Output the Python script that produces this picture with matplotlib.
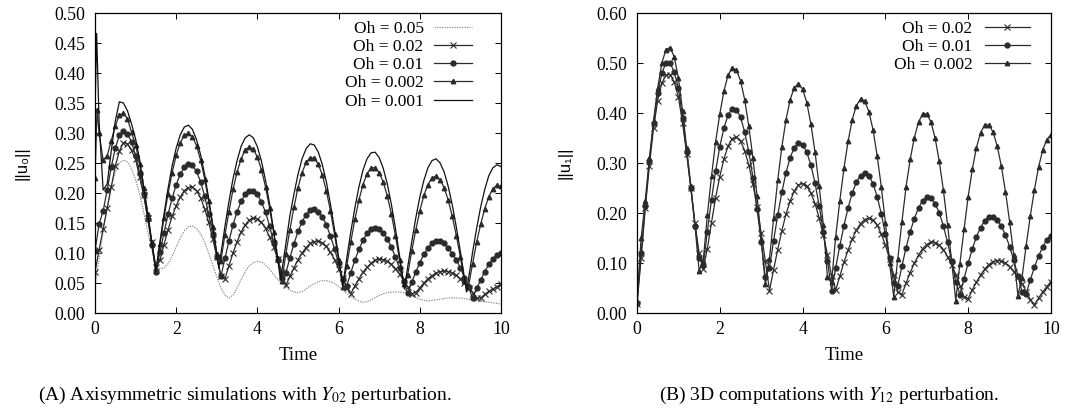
import numpy as np
import matplotlib
matplotlib.use("Agg")
import matplotlib.pyplot as plt

plt.rcParams['font.family'] = 'serif'
plt.rcParams['font.serif'] = ['Liberation Serif', 'DejaVu Serif']
plt.rcParams['mathtext.fontset'] = 'stix'

# common time grid of the marked runs
time = np.linspace(0, 10, 101)

# ---- (A) axisymmetric, Y02 perturbation ----
# Oh = 0.05 (dotted, no markers)
a_oh05 = [0.044, 0.090, 0.135, 0.175, 0.210, 0.235, 0.250, 0.255, 0.252, 0.240,
          0.222, 0.198, 0.168, 0.135, 0.105, 0.082, 0.074, 0.075, 0.082, 0.095,
          0.110, 0.125, 0.137, 0.144, 0.145, 0.141, 0.132, 0.118, 0.100, 0.080,
          0.060, 0.042, 0.030, 0.025, 0.030, 0.042, 0.056, 0.069, 0.079, 0.084,
          0.086, 0.085, 0.080, 0.073, 0.064, 0.056, 0.049, 0.043, 0.038, 0.035,
          0.034, 0.036, 0.040, 0.045, 0.049, 0.052, 0.054, 0.054, 0.052, 0.049,
          0.044, 0.039, 0.033, 0.028, 0.023, 0.020, 0.018, 0.019, 0.022, 0.026,
          0.029, 0.032, 0.034, 0.035, 0.035, 0.035, 0.034, 0.032, 0.029, 0.026,
          0.023, 0.021, 0.020, 0.021, 0.022, 0.023, 0.024, 0.025, 0.025, 0.025,
          0.025, 0.024, 0.023, 0.022, 0.021, 0.020, 0.019, 0.018, 0.017, 0.016,
          0.015]
# Oh = 0.02 (crosses)
a_oh02 = [0.068, 0.105, 0.140, 0.175, 0.210, 0.245, 0.270, 0.284, 0.282, 0.271,
          0.256, 0.226, 0.196, 0.158, 0.118, 0.076, 0.088, 0.114, 0.139, 0.161,
          0.179, 0.193, 0.204, 0.209, 0.210, 0.204, 0.192, 0.174, 0.151, 0.124,
          0.094, 0.062, 0.057, 0.079, 0.100, 0.119, 0.135, 0.147, 0.155, 0.158,
          0.157, 0.151, 0.141, 0.127, 0.110, 0.090, 0.068, 0.046, 0.061, 0.075,
          0.089, 0.100, 0.109, 0.116, 0.119, 0.120, 0.117, 0.111, 0.101, 0.089,
          0.074, 0.058, 0.041, 0.032, 0.045, 0.057, 0.068, 0.076, 0.083, 0.088,
          0.090, 0.089, 0.086, 0.081, 0.074, 0.065, 0.055, 0.044, 0.032, 0.034,
          0.042, 0.050, 0.057, 0.062, 0.067, 0.069, 0.070, 0.069, 0.067, 0.063,
          0.057, 0.050, 0.042, 0.034, 0.025, 0.025, 0.031, 0.036, 0.040, 0.044,
          0.048]
# Oh = 0.01 (filled circles)
a_oh01 = [0.103, 0.148, 0.170, 0.205, 0.243, 0.275, 0.296, 0.303, 0.299, 0.285,
          0.262, 0.233, 0.198, 0.157, 0.114, 0.068, 0.102, 0.134, 0.165, 0.191,
          0.214, 0.231, 0.243, 0.248, 0.246, 0.236, 0.219, 0.195, 0.165, 0.132,
          0.093, 0.061, 0.091, 0.120, 0.147, 0.169, 0.186, 0.198, 0.204, 0.204,
          0.198, 0.185, 0.168, 0.145, 0.118, 0.089, 0.058, 0.066, 0.092, 0.115,
          0.136, 0.152, 0.164, 0.171, 0.173, 0.169, 0.160, 0.147, 0.128, 0.107,
          0.083, 0.057, 0.045, 0.067, 0.088, 0.106, 0.121, 0.133, 0.140, 0.142,
          0.140, 0.134, 0.123, 0.110, 0.093, 0.075, 0.054, 0.033, 0.051, 0.068,
          0.084, 0.098, 0.108, 0.116, 0.120, 0.120, 0.116, 0.108, 0.099, 0.089,
          0.075, 0.059, 0.043, 0.025, 0.041, 0.055, 0.069, 0.081, 0.090, 0.096,
          0.100]
# Oh = 0.002 (triangles), one extra early sample at t = 0.05
t_a002 = np.sort(np.r_[time, 0.05])
a_oh002 = [0.225, 0.338, 0.300, 0.255, 0.262, 0.287, 0.312, 0.330, 0.333, 0.324,
           0.301, 0.280, 0.248, 0.209, 0.165, 0.119, 0.070, 0.115, 0.159, 0.199,
           0.234, 0.263, 0.284, 0.296, 0.300, 0.294, 0.279, 0.255, 0.224, 0.186,
           0.144, 0.098, 0.087, 0.130, 0.169, 0.206, 0.235, 0.257, 0.272, 0.277,
           0.273, 0.260, 0.239, 0.210, 0.175, 0.135, 0.091, 0.054, 0.098, 0.139,
           0.176, 0.209, 0.234, 0.251, 0.259, 0.258, 0.248, 0.230, 0.203, 0.170,
           0.131, 0.089, 0.044, 0.078, 0.118, 0.156, 0.188, 0.214, 0.232, 0.242,
           0.242, 0.234, 0.218, 0.195, 0.165, 0.129, 0.089, 0.048, 0.063, 0.103,
           0.138, 0.170, 0.196, 0.214, 0.225, 0.228, 0.222, 0.209, 0.188, 0.161,
           0.129, 0.093, 0.054, 0.045, 0.082, 0.118, 0.148, 0.174, 0.194, 0.207,
           0.213, 0.211]
# Oh = 0.001 (plain line), initial spike and cusps sampled finer
t_a001 = np.sort(np.r_[time, 0.04, 3.05, 4.57, 7.62, 9.15])
a_oh001 = [0.335, 0.466, 0.320, 0.205, 0.215, 0.270, 0.320, 0.352, 0.350, 0.337,
           0.315, 0.290, 0.255, 0.210, 0.165, 0.115, 0.070, 0.119, 0.165, 0.208,
           0.245, 0.275, 0.297, 0.310, 0.313, 0.306, 0.289, 0.264, 0.231, 0.191,
           0.147, 0.099, 0.075, 0.098, 0.144, 0.186, 0.224, 0.254, 0.278, 0.292,
           0.297, 0.292, 0.277, 0.253, 0.221, 0.182, 0.137, 0.089, 0.055, 0.069,
           0.115, 0.162, 0.198, 0.231, 0.257, 0.274, 0.282, 0.280, 0.268, 0.247,
           0.218, 0.181, 0.139, 0.093, 0.045, 0.091, 0.135, 0.175, 0.210, 0.238,
           0.257, 0.267, 0.268, 0.259, 0.241, 0.215, 0.181, 0.141, 0.096, 0.049,
           0.040, 0.076, 0.118, 0.158, 0.193, 0.221, 0.242, 0.254, 0.257, 0.250,
           0.235, 0.211, 0.180, 0.143, 0.102, 0.058, 0.035, 0.057, 0.101, 0.141,
           0.177, 0.206, 0.229, 0.242, 0.247, 0.244]

# ---- (B) 3D, Y12 perturbation ----
b_oh02 = [0.018, 0.110, 0.210, 0.295, 0.370, 0.425, 0.460, 0.476, 0.477, 0.462,
          0.432, 0.380, 0.318, 0.250, 0.180, 0.120, 0.088, 0.129, 0.181, 0.231,
          0.273, 0.308, 0.334, 0.349, 0.352, 0.344, 0.325, 0.296, 0.258, 0.212,
          0.160, 0.104, 0.045, 0.087, 0.127, 0.165, 0.198, 0.224, 0.244, 0.256,
          0.259, 0.254, 0.240, 0.219, 0.190, 0.156, 0.117, 0.075, 0.046, 0.074,
          0.102, 0.126, 0.148, 0.166, 0.179, 0.187, 0.190, 0.186, 0.176, 0.158,
          0.136, 0.108, 0.076, 0.042, 0.037, 0.060, 0.081, 0.100, 0.116, 0.129,
          0.137, 0.142, 0.141, 0.136, 0.127, 0.113, 0.097, 0.077, 0.055, 0.032,
          0.029, 0.046, 0.062, 0.076, 0.088, 0.097, 0.103, 0.105, 0.104, 0.100,
          0.093, 0.083, 0.072, 0.059, 0.043, 0.027, 0.017, 0.030, 0.042, 0.053,
          0.063]
b_oh01 = [0.020, 0.120, 0.215, 0.305, 0.380, 0.440, 0.480, 0.500, 0.500, 0.482,
          0.450, 0.390, 0.322, 0.250, 0.175, 0.110, 0.096, 0.163, 0.227, 0.284,
          0.333, 0.370, 0.396, 0.409, 0.407, 0.392, 0.362, 0.323, 0.271, 0.208,
          0.142, 0.072, 0.090, 0.145, 0.196, 0.242, 0.281, 0.311, 0.331, 0.340,
          0.337, 0.322, 0.296, 0.260, 0.215, 0.162, 0.105, 0.045, 0.091, 0.135,
          0.175, 0.211, 0.240, 0.262, 0.275, 0.280, 0.275, 0.259, 0.233, 0.199,
          0.158, 0.111, 0.060, 0.055, 0.094, 0.131, 0.163, 0.189, 0.210, 0.225,
          0.232, 0.230, 0.219, 0.201, 0.174, 0.142, 0.104, 0.063, 0.037, 0.069,
          0.100, 0.128, 0.153, 0.171, 0.185, 0.192, 0.193, 0.186, 0.174, 0.156,
          0.133, 0.106, 0.075, 0.042, 0.039, 0.066, 0.092, 0.114, 0.132, 0.147,
          0.155]
b_oh002 = [0.025, 0.150, 0.225, 0.310, 0.385, 0.450, 0.500, 0.527, 0.531, 0.512,
           0.470, 0.405, 0.330, 0.255, 0.175, 0.085, 0.105, 0.196, 0.274, 0.343,
           0.398, 0.444, 0.476, 0.490, 0.486, 0.465, 0.427, 0.374, 0.310, 0.234,
           0.148, 0.058, 0.108, 0.190, 0.266, 0.333, 0.387, 0.427, 0.451, 0.458,
           0.448, 0.421, 0.378, 0.322, 0.254, 0.177, 0.072, 0.062, 0.153, 0.225,
           0.290, 0.344, 0.387, 0.415, 0.428, 0.424, 0.403, 0.367, 0.315, 0.253,
           0.181, 0.100, 0.033, 0.109, 0.183, 0.253, 0.308, 0.351, 0.382, 0.398,
           0.398, 0.382, 0.350, 0.304, 0.246, 0.177, 0.104, 0.025, 0.099, 0.168,
           0.233, 0.288, 0.331, 0.361, 0.376, 0.376, 0.362, 0.334, 0.294, 0.243,
           0.183, 0.116, 0.035, 0.071, 0.135, 0.194, 0.247, 0.292, 0.326, 0.347,
           0.357]

ink = '#2b2b2b'
cross = dict(color=ink, lw=0.9, marker='x', ms=4, mew=0.8)
circle = dict(color=ink, lw=0.9, marker='o', ms=3.5, mec=ink, mfc=ink)
tri = dict(color=ink, lw=0.9, marker='^', ms=3.2, mec=ink, mfc=ink)
plain = dict(color='#111111', lw=0.9)
dotted = dict(color='#8a8a8a', lw=0.9, ls=(0, (1, 1)))

fig = plt.figure(figsize=(10.72, 4.18), dpi=100)
axA = fig.add_axes([95 / 1072, 105 / 418, 406 / 1072, 300 / 418])
axB = fig.add_axes([637 / 1072, 105 / 418, 414 / 1072, 300 / 418])

axA.plot(time, a_oh05, label='Oh = 0.05', **dotted)
axA.plot(time, a_oh02, label='Oh = 0.02', **cross)
axA.plot(time, a_oh01, label='Oh = 0.01', **circle)
axA.plot(t_a002, a_oh002, label='Oh = 0.002', **tri)
axA.plot(t_a001, a_oh001, label='Oh = 0.001', **plain)

axB.plot(time, b_oh02, label='Oh = 0.02', **cross)
axB.plot(time, b_oh01, label='Oh = 0.01', **circle)
axB.plot(time, b_oh002, label='Oh = 0.002', **tri)

for ax, ymax, ystep in ((axA, 0.5, 0.05), (axB, 0.6, 0.1)):
    ax.set_xlim(0, 10)
    ax.set_ylim(0, ymax)
    ax.set_xticks(np.arange(0, 11, 2))
    ax.set_yticks(np.arange(0, ymax + 1e-9, ystep))
    ax.yaxis.set_major_formatter(plt.FormatStrFormatter('%.2f'))
    ax.tick_params(direction='in', top=True, right=True, length=4, width=0.7,
                   labelsize=12.8)
    ax.tick_params(axis='x', pad=6)
    ax.tick_params(axis='y', pad=7)
    for s in ax.spines.values():
        s.set_linewidth(0.9)
    ax.set_xlabel('Time', fontsize=13.5)
    ax.xaxis.set_label_coords(0.5, -0.115)

sans = ['Liberation Sans', 'DejaVu Sans']
axA.set_ylabel('||u\u2080||', family=sans, fontsize=12)
axB.set_ylabel('||u\u2081||', family=sans, fontsize=12)
axA.yaxis.set_label_coords(-0.162, 0.5)
axB.yaxis.set_label_coords(-0.155, 0.5)

axA.legend(loc='upper right', bbox_to_anchor=(0.929, 0.975), frameon=False,
           markerfirst=False, handlelength=2.2, handletextpad=0.6,
           labelspacing=0.12, borderpad=0, borderaxespad=0, numpoints=1,
           fontsize=12.5)
axB.legend(loc='upper right', bbox_to_anchor=(0.949, 0.975), frameon=False,
           markerfirst=False, handlelength=2.6, handletextpad=0.7,
           labelspacing=0.12, borderpad=0, borderaxespad=0, numpoints=1,
           fontsize=12.5)

fig.text(245 / 1072, 1 - 395 / 418,
         r'(A) Axisymmetric simulations with $Y_{02}$ perturbation.',
         ha='center', va='center', fontsize=14)
fig.text(829 / 1072, 1 - 395 / 418,
         r'(B) 3D computations with $Y_{12}$ perturbation.',
         ha='center', va='center', fontsize=14)

fig.savefig('out.png', dpi=100)
